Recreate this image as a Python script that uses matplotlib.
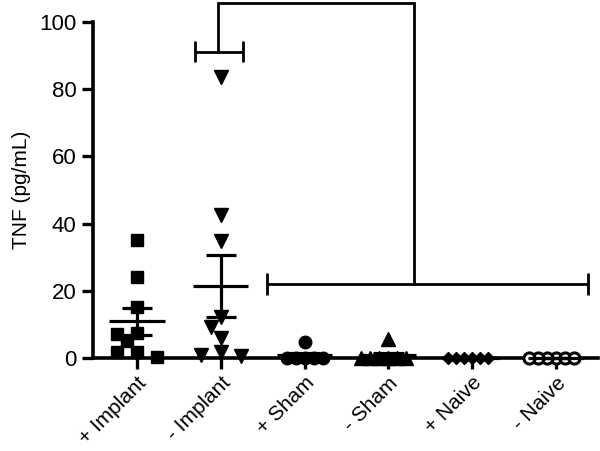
import numpy as np
import matplotlib
matplotlib.use("Agg")
import matplotlib.pyplot as plt

plt.rcParams['font.family'] = ['Liberation Sans', 'DejaVu Sans']

# ---- data ----
categories = ["+ Implant", "- Implant", "+ Sham", "- Sham", "+ Naive", "- Naive"]
plus_implant = [35.0, 24.0, 15.3, 7.4, 7.1, 5.1, 1.9, 1.8, 0.4]
minus_implant = [83.6, 42.6, 34.8, 12.3, 9.3, 5.9, 1.9, 0.9, 0.7]
plus_sham = [4.9, 0.0, 0.0, 0.0, 0.0, 0.0]
minus_sham = [5.6, 0.0, 0.0, 0.0, 0.0, 0.0, 0.0]
plus_naive = [0.0, 0.0, 0.0, 0.0, 0.0, 0.0]
minus_naive = [0.0, 0.0, 0.0, 0.0, 0.0, 0.0]
groups = [plus_implant, minus_implant, plus_sham, minus_sham, plus_naive, minus_naive]
yticks = [0, 20, 40, 60, 80, 100]
ylabel = "TNF (pg/mL)"

# ---- styles ----
marker_styles = [
    dict(marker='s', ms=9.0, mfc='black', mec='black'),
    dict(marker='v', ms=10.0, mfc='black', mec='black'),
    dict(marker='o', ms=9.0, mfc='black', mec='black'),
    dict(marker='^', ms=10.0, mfc='black', mec='black'),
    dict(marker='D', ms=6.0, mfc='black', mec='black'),
    dict(marker='o', ms=8.0, mfc='white', mec='black', mew=2.2),
]
# swarm spacing (px): (step, min distance)
swarm_params = [(10, 12), (10, 12), (9, 9), (9, 9), (8, 8), (9, 9)]

fig = plt.figure(figsize=(6.0, 4.51), dpi=100)
ax = fig.add_axes([0.155, 0.2062, 0.8417, 0.745])
ax.set_xlim(-0.525, 5.5)
ax.set_ylim(0, 100)

bbox = ax.get_window_extent()
xpx = bbox.width / (5.5 + 0.525)
ypx = bbox.height / 100.0


def swarm(vals, step, dist):
    offs = [0.0] * len(vals)
    placed = []
    order = sorted(range(len(vals)), key=lambda i: -vals[i])
    cands = [0]
    for k in range(1, 20):
        cands += [-k, k]
    for i in order:
        y = vals[i] * ypx
        for k in cands:
            x = k * step
            if all((x - px) ** 2 + (y - py) ** 2 >= dist ** 2 - 1e-6 for px, py in placed):
                break
        placed.append((x, y))
        offs[i] = x / xpx
    return offs


lw = 2.3
for gi, vals in enumerate(groups):
    offs = swarm(vals, *swarm_params[gi])
    xs = [gi + o for o in offs]
    ax.plot(xs, vals, linestyle='none', clip_on=False, zorder=3, **marker_styles[gi])
    v = np.array(vals)
    m = v.mean()
    sem = v.std(ddof=1) / np.sqrt(len(v))
    ax.hlines(m, gi - 0.33, gi + 0.33, color='black', lw=lw, zorder=4, clip_on=False)
    ax.hlines([m - sem, m + sem], gi - 0.18, gi + 0.18, color='black', lw=lw, zorder=4, clip_on=False)
    ax.vlines(gi, m - sem, m + sem, color='black', lw=lw, zorder=4, clip_on=False)

# significance brackets
blw = 2.0
ax.plot([0.69, 1.26], [91.1, 91.1], color='black', lw=blw, clip_on=False, solid_capstyle='butt')
for xb in (0.69, 1.26):
    ax.plot([xb, xb], [88.0, 94.3], color='black', lw=blw, clip_on=False, solid_capstyle='butt')
ax.plot([1.55, 5.38], [22.0, 22.0], color='black', lw=blw, clip_on=False, solid_capstyle='butt')
for xb in (1.55, 5.38):
    ax.plot([xb, xb], [18.9, 25.3], color='black', lw=blw, clip_on=False, solid_capstyle='butt')
ax.plot([0.97, 0.97, 3.30, 3.30], [91.1, 105.6, 105.6, 22.0], color='black', lw=blw,
        clip_on=False, solid_joinstyle='miter')

# axes styling
for s in ('top', 'right'):
    ax.spines[s].set_visible(False)
ax.spines['left'].set_linewidth(2.6)
ax.spines['bottom'].set_linewidth(2.6)
ax.spines['bottom'].set_zorder(2)
ax.set_yticks(yticks)
ax.set_yticklabels([str(t) for t in yticks], fontsize=16)
ax.set_xticks(range(len(categories)))
ax.set_xticklabels(categories, fontsize=15, rotation=45, ha='right', rotation_mode='anchor')
ax.tick_params(axis='both', which='major', width=2.4, length=8, direction='out', pad=4)
ax.tick_params(axis='x', pad=3)
ax.set_ylabel(ylabel, fontsize=15, labelpad=6)

fig.savefig("out.png", dpi=100)
